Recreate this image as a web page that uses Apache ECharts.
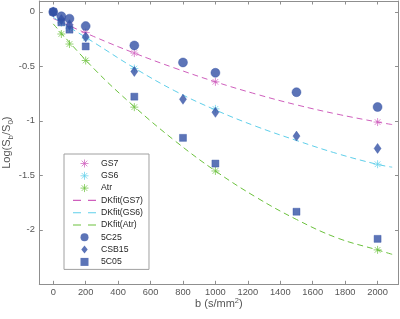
<!DOCTYPE html>
<html>
<head>
<meta charset="utf-8">
<script src="https://cdn.jsdelivr.net/npm/echarts@6/dist/echarts.min.js"></script>
<style>
html,body{margin:0;padding:0;background:#fff;}
#chart{width:400px;height:319px;}
</style>
</head>
<body>
<div id="chart"></div>
<script>
// ---- data ----
const bGS = [0, 50, 100, 200, 500, 1000, 2000];
const gs7 = [0, -0.08, -0.12, -0.19, -0.378, -0.642, -1.011];
const gs6 = [0, -0.10, -0.15, -0.24, -0.52, -0.89, -1.398];
const atr = [0, -0.203, -0.295, -0.446, -0.874, -1.46, -2.184];

const bFit = [0, 250, 500, 750, 1000, 1250, 1500, 1750, 2000, 2090];
const fitGS7 = [-0.061, -0.226, -0.378, -0.516, -0.642, -0.754, -0.853, -0.938, -1.011, -1.034];
const fitGS6 = [-0.05, -0.28, -0.515, -0.725, -0.90, -1.05, -1.18, -1.30, -1.40, -1.425];
const fitAtr = [-0.11, -0.52, -0.87, -1.183, -1.46, -1.70, -1.905, -2.074, -2.185, -2.225];

const bBlue = [0, 50, 100, 200, 500, 800, 1000, 1500, 2000];
const s5C25 = [0, -0.04, -0.062, -0.13, -0.308, -0.464, -0.559, -0.737, -0.873];
const sCSB15 = [0, -0.07, -0.117, -0.23, -0.547, -0.802, -0.922, -1.14, -1.253];
const s5C05 = [0, -0.096, -0.163, -0.317, -0.778, -1.156, -1.392, -1.834, -2.083];

const seriesNames = ['GS7', 'GS6', 'Atr', 'DKfit(GS7)', 'DKfit(GS6)', 'DKfit(Atr)', '5C25', 'CSB15', '5C05'];
const yTicks = [0, -0.5, -1, -1.5, -2];

// ---- styling ----
const cPink = '#cf5fbd', cCyan = '#5fcfea', cGreen = '#6cc23e', cBlue = '#3351a5';
const axisCol = '#8f8f8f', labCol = '#555555';
const star = 'path://M0,-10L0,10M-10,0L10,0M-7.07,-7.07L7.07,7.07M-7.07,7.07L7.07,-7.07';
const dashIcon = 'path://M0,0h8v1.1h-8zM15,0h8v1.1h-8z';
const diamondIcon = 'path://M0,-5L4,0L0,5L-4,0Z';
const squareIcon = 'path://M0,0h10v10h-10z';

const zip = (xs, ys) => xs.map((x, i) => [x, ys[i]]);

function starSeries(name, ys, col) {
  return {
    name, type: 'scatter', data: zip(bGS, ys), symbol: star, symbolSize: 8,
    itemStyle: { color: 'rgba(0,0,0,0)', borderColor: col, borderWidth: 0.9 },
    z: 2
  };
}
function fitSeries(name, ys, col) {
  return {
    name, type: 'line', data: zip(bFit, ys), smooth: 0.4, symbol: 'none', showSymbol: false,
    lineStyle: { color: col, width: 1, type: [6, 4] }, itemStyle: { color: col }, z: 3
  };
}
function blueSeries(name, ys, sym, size) {
  return {
    name, type: 'scatter', data: zip(bBlue, ys), symbol: sym, symbolSize: size,
    itemStyle: { color: cBlue, borderColor: cBlue, borderWidth: 0.5 }, z: 4
  };
}

const legendData = [
  { name: seriesNames[0], icon: star, itemStyle: { color: 'rgba(0,0,0,0)', borderColor: cPink, borderWidth: 0.9 } },
  { name: seriesNames[1], icon: star, itemStyle: { color: 'rgba(0,0,0,0)', borderColor: cCyan, borderWidth: 0.9 } },
  { name: seriesNames[2], icon: star, itemStyle: { color: 'rgba(0,0,0,0)', borderColor: cGreen, borderWidth: 0.9 } },
  { name: seriesNames[3], icon: dashIcon, itemStyle: { color: cPink, borderWidth: 0 } },
  { name: seriesNames[4], icon: dashIcon, itemStyle: { color: cCyan, borderWidth: 0 } },
  { name: seriesNames[5], icon: dashIcon, itemStyle: { color: cGreen, borderWidth: 0 } },
  { name: seriesNames[6], icon: 'circle', itemStyle: { color: cBlue, borderWidth: 0 } },
  { name: seriesNames[7], icon: diamondIcon, itemStyle: { color: cBlue, borderWidth: 0 } },
  { name: seriesNames[8], icon: squareIcon, itemStyle: { color: cBlue, borderWidth: 0 } }
];

const chart = echarts.init(document.getElementById('chart'), null, { renderer: 'canvas' });

const baseX = {
  type: 'value', min: -86, max: 2129, splitNumber: 10,
  axisLine: { show: true, onZero: false, lineStyle: { color: axisCol, width: 1 } },
  axisTick: { show: true, inside: true, length: 3.5, lineStyle: { color: axisCol } },
  splitLine: { show: false }
};
const baseY = {
  type: 'value', min: -2.5, max: 0.1, interval: 0.5,
  axisLine: { show: true, onZero: false, lineStyle: { color: axisCol, width: 1 } },
  axisTick: { show: true, inside: true, length: 3.5, lineStyle: { color: axisCol } },
  splitLine: { show: false }
};

chart.setOption({
  animation: false,
  backgroundColor: '#ffffff',
  textStyle: { fontFamily: 'Liberation Sans, Arial, sans-serif' },
  grid: { left: 39.3, right: 1.5, top: 1, bottom: 34.7, containLabel: false, outerBoundsMode: 'none' },
  xAxis: [
    Object.assign({}, baseX, {
      position: 'bottom',
      name: 'b (s/mm{sup|2})', nameLocation: 'middle', nameGap: 13, nameMoveOverlap: false,
      nameTextStyle: {
        color: labCol, fontSize: 11, fontFamily: 'Liberation Sans, Arial, sans-serif',
        rich: { sup: { fontSize: 7.5, color: labCol, padding: [0, 0, 6, 0] } }
      },
      axisLabel: {
        show: true, color: labCol, fontSize: 9.3, margin: 4,
        showMinLabel: false, showMaxLabel: false,
        formatter: v => (Math.abs(v % 200) < 1e-6 ? String(v) : '')
      }
    }),
    Object.assign({}, baseX, { position: 'top', axisLabel: { show: false } })
  ],
  yAxis: [
    Object.assign({}, baseY, {
      position: 'left',
      name: 'Log(S{sub|b}/S{sub|0})', nameLocation: 'middle', nameGap: 25, nameRotate: 90,
      nameMoveOverlap: false,
      nameTextStyle: {
        color: labCol, fontSize: 11, fontFamily: 'Liberation Sans, Arial, sans-serif',
        rich: { sub: { fontSize: 8, color: labCol, padding: [6, 0, 0, 0] } }
      },
      axisLabel: {
        show: true, color: labCol, fontSize: 9.3, margin: 4.5,
        showMinLabel: false, showMaxLabel: false,
        formatter: v => (yTicks.some(t => Math.abs(t - v) < 1e-9) ? String(v) : '')
      }
    }),
    Object.assign({}, baseY, { position: 'right', axisLabel: { show: false } })
  ],
  legend: {
    data: legendData,
    orient: 'vertical',
    left: 64, top: 154,
    padding: [4.5, 6, 2.5, 9],
    itemWidth: 23, itemHeight: 8, itemGap: 2.3,
    backgroundColor: '#ffffff',
    borderColor: '#a0a0a0', borderWidth: 1, borderRadius: 0,
    symbolKeepAspect: true,
    textStyle: { color: '#262626', fontSize: 8.7, lineHeight: 10, padding: [0, 0, 0, 0],
                 fontFamily: 'Liberation Sans, Arial, sans-serif' },
    inactiveColor: '#ccc'
  },
  series: [
    starSeries('GS7', gs7, cPink),
    starSeries('GS6', gs6, cCyan),
    starSeries('Atr', atr, cGreen),
    fitSeries('DKfit(GS7)', fitGS7, cPink),
    fitSeries('DKfit(GS6)', fitGS6, cCyan),
    fitSeries('DKfit(Atr)', fitAtr, cGreen),
    blueSeries('5C25', s5C25, 'circle', 9),
    blueSeries('CSB15', sCSB15, 'diamond', [7, 10]),
    blueSeries('5C05', s5C05, 'rect', 7)
  ]
});
</script>
</body>
</html>
